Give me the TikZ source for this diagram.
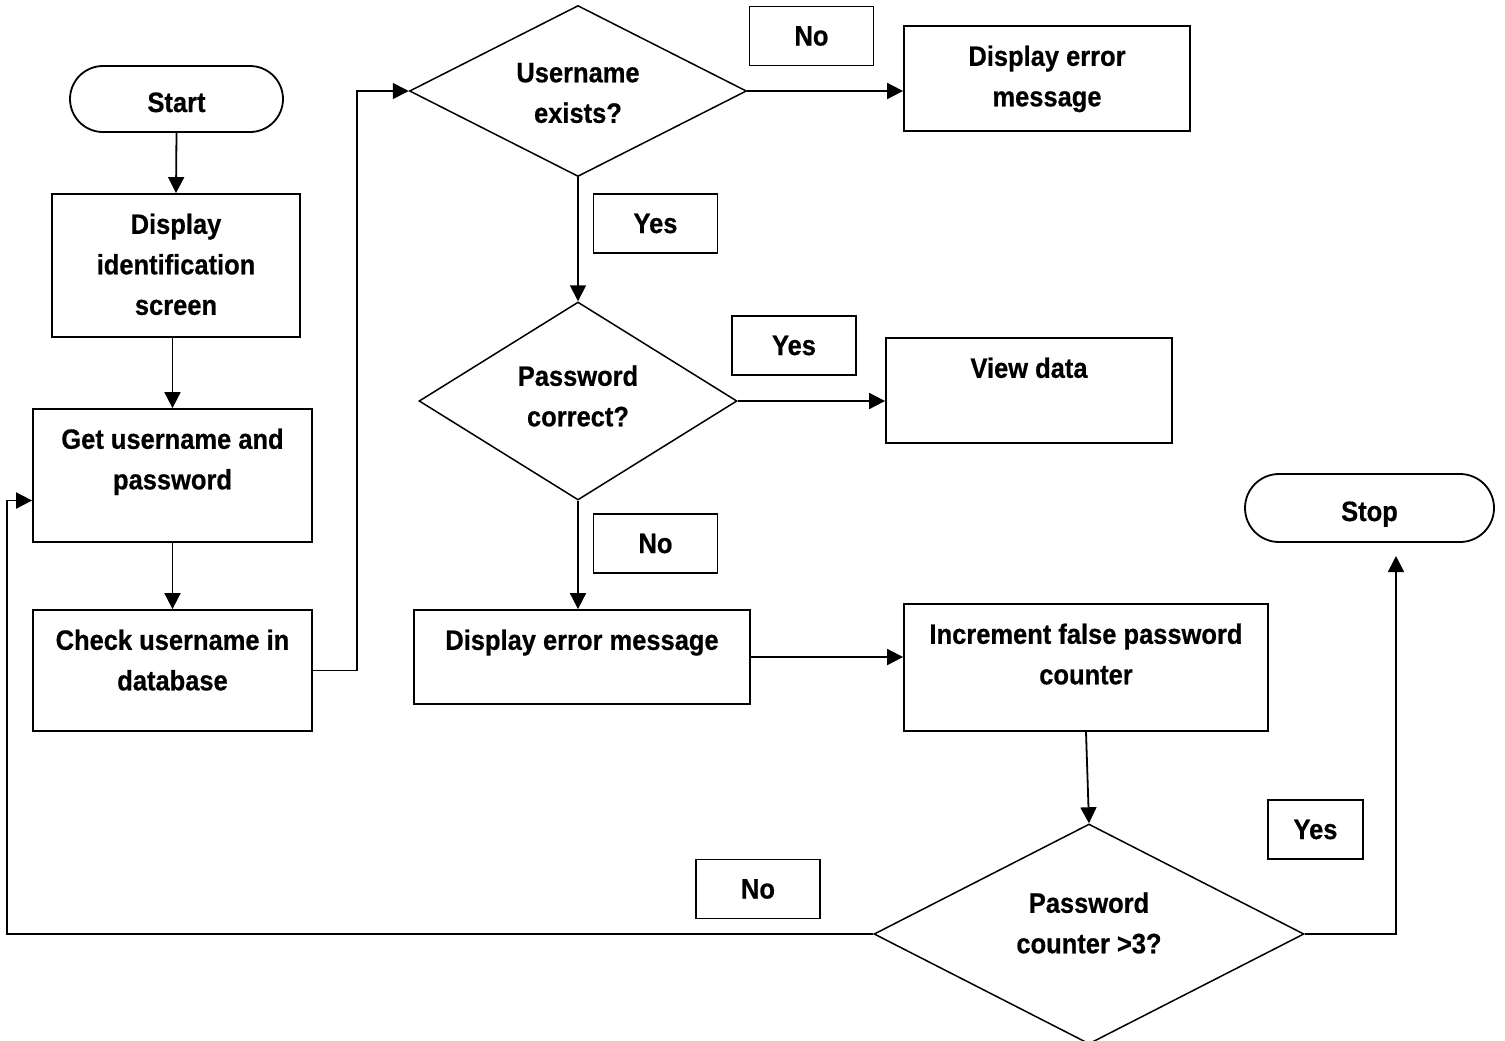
\documentclass[tikz,border=0pt]{standalone}
\usepackage{fontspec}
\setmainfont{Liberation Sans}[FakeStretch=0.91, BoldFeatures={FakeBold=0.6}]
\usetikzlibrary{shapes.geometric,arrows.meta}
\begin{document}
\begin{tikzpicture}[x=0.5pt,y=-0.5pt,
  txt/.style={font=\fontsize{14}{20.25}\selectfont\bfseries, align=center, inner sep=0pt},
  box/.style={draw, rectangle, line width=0.9pt, inner sep=0pt},
  terminal/.style={draw, rectangle, rounded corners=#1, line width=0.9pt, inner sep=0pt, txt, text height=13pt, text depth=0pt},
  decision/.style={draw, diamond, line width=0.75pt, inner sep=0pt},
  tag/.style={draw, rectangle, line width=0.9pt, inner sep=0pt, minimum width=62pt, minimum height=29.5pt, txt},
  toptext/.style={label={[txt, anchor=north, yshift=-10pt]north:{#1}}},
  midtext/.style={label={[txt]center:{#1}}},
  flow/.style={line width=0.9pt, -{Triangle[length=8pt,width=8pt]}},
  link/.style={line width=0.9pt}
]
\useasboundingbox (0,0) rectangle (1505,1040);

% terminals
\node[terminal=16.5pt, minimum width=106.5pt, minimum height=33pt] (start) at (176.5,99) {Start};
\node[terminal=17pt, minimum width=124.5pt, minimum height=34pt] (stop) at (1369.5,508) {Stop};

% process boxes
\node[box, minimum width=124pt, minimum height=71.5pt, toptext={Display\\identification\\screen}] (disp) at (176,265.5) {};
\node[box, minimum width=139.5pt, minimum height=66.5pt, toptext={Get username and\\password}] (get) at (172.5,475.5) {};
\node[box, minimum width=139.5pt, minimum height=60.5pt, toptext={Check username in\\database}] (check) at (172.5,670.5) {};
\node[box, minimum width=143pt, minimum height=52.5pt, toptext={Display error\\message}] (err1) at (1047,78.5) {};
\node[box, minimum width=143pt, minimum height=52.5pt, toptext={View data}] (view) at (1029,390.5) {};
\node[box, minimum width=168pt, minimum height=47pt, toptext={Display error message}] (err2) at (582,657) {};
\node[box, minimum width=182pt, minimum height=63.5pt, toptext={Increment false password\\counter}] (inc) at (1086,667.5) {};

% decisions
\node[decision, minimum width=168.5pt, minimum height=85.5pt, label={[txt, yshift=-1pt]center:{Username\\exists?}}] (d1) at (578,91) {};
\node[decision, minimum width=159pt, minimum height=99pt, label={[txt, yshift=2.5pt]center:{Password\\correct?}}] (d2) at (578,401) {};
\node[decision, minimum width=215pt, minimum height=110pt, label={[txt, yshift=5.5pt]center:{Password\\counter >3?}}] (d3) at (1089,934) {};

% branch tags
\node[tag] (no1) at (811.5,36) {No};
\node[tag] (yes1) at (655.5,223.5) {Yes};
\node[tag] (yes2) at (794,345.5) {Yes};
\node[tag] (no2) at (655.5,543.5) {No};
\node[tag, minimum width=47.5pt] (yes3) at (1315.5,829.5) {Yes};
\node[tag] (no3) at (758,889) {No};

% connectors
\coordinate (stopin) at (1396,556);
\draw[flow] (start.south) -- (disp.north);
\draw[flow] (disp.south -| get.north) -- (get.north);
\draw[flow] (get.south) -- (check.north);
\draw[flow] (check.east) -- ++(44,0) |- (d1.west);
\draw[flow] (d1.east) -- (d1.east -| err1.west);
\draw[flow] (d1.south) -- (d2.north);
\draw[flow] (d2.east) -- (d2.east -| view.west);
\draw[flow] (d2.south) -- (d2.south |- err2.north);
\draw[flow] (err2.east) -- (err2.east -| inc.west);
\draw[flow] (inc.south) -- (d3.north);
\draw[flow] (d3.east) -| (stopin);
\draw[flow] (d3.west) -- ++(-866,0) |- ([yshift=-12.5pt]get.west);
\end{tikzpicture}
\end{document}
